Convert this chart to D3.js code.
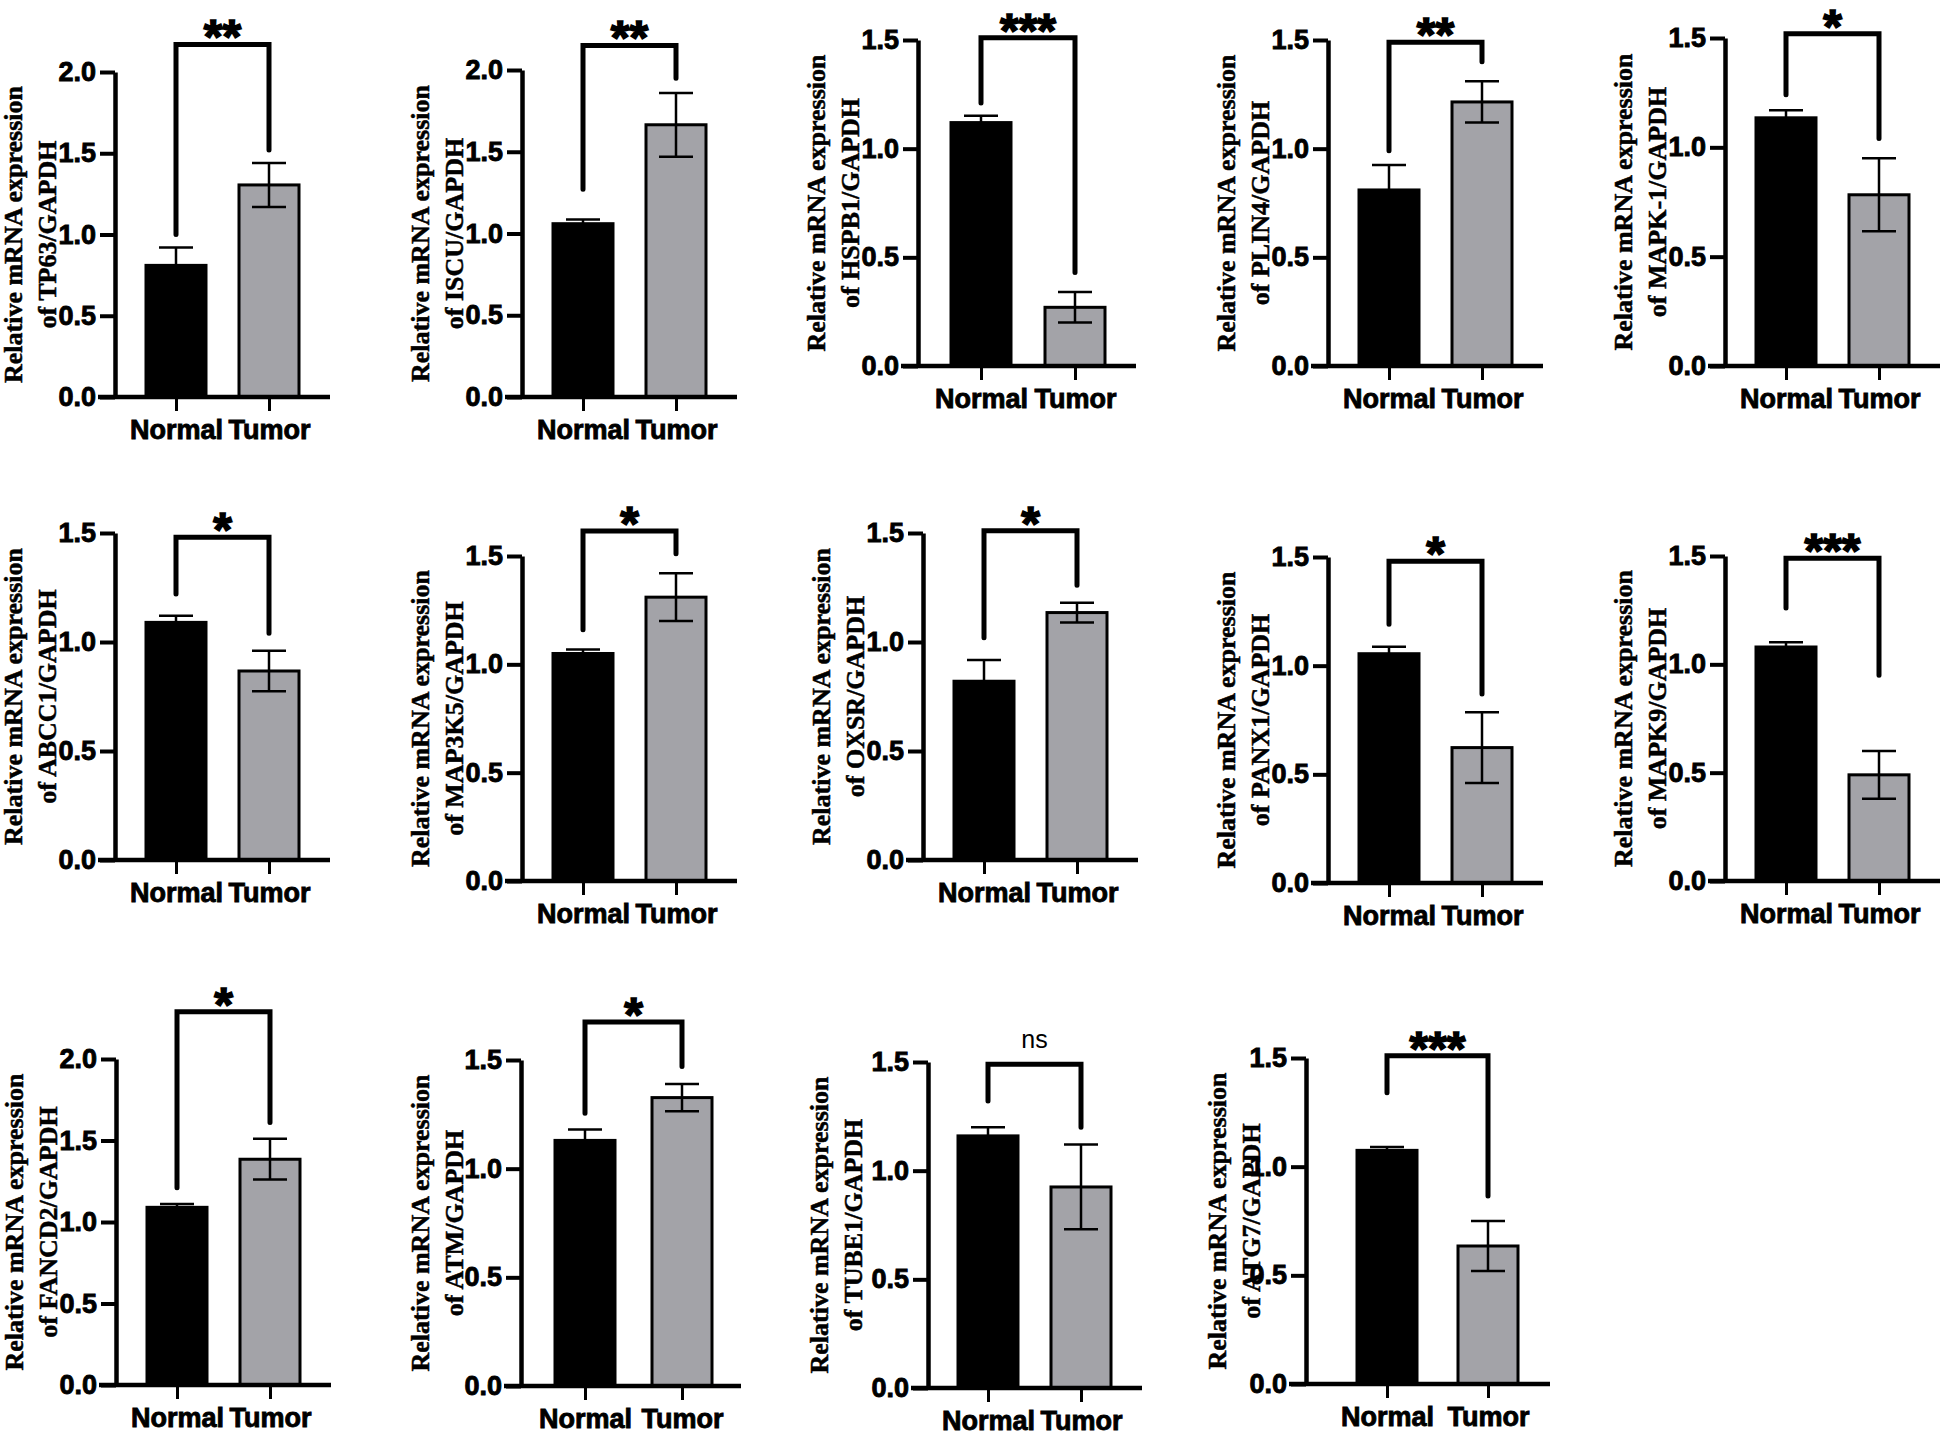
<html>
<head>
    <meta charset="UTF-8" />
    <title>Relative mRNA expression panels</title>
    <script src="https://d3js.org/d3.v7.min.js"></script>
    <style>
        body { margin: 0; background: white; }
    </style>
</head>
<body>
    <svg id="canva" width="1944" height="1437"></svg>
    <script>
        // data
        const genes = ["TP63", "ISCU", "HSPB1", "PLIN4", "MAPK-1",
                       "ABCC1", "MAP3K5", "OXSR", "PANX1", "MAPK9",
                       "FANCD2", "ATM", "TUBE1", "ATG7"];
        const groups = ["Normal", "Tumor"];
        const normalMean = [0.81, 1.06, 1.12, 0.81, 1.135, 1.09, 1.05, 0.82, 1.055, 1.08, 1.09, 1.13, 1.16, 1.075];
        const normalSem  = [0.11, 0.026, 0.032, 0.115, 0.035, 0.03, 0.018, 0.097, 0.032, 0.022, 0.02, 0.05, 0.04, 0.015];
        const tumorMean  = [1.305, 1.665, 0.27, 1.215, 0.783, 0.867, 1.31, 1.135, 0.623, 0.49, 1.385, 1.327, 0.925, 0.635];
        const tumorSem   = [0.135, 0.195, 0.07, 0.095, 0.167, 0.093, 0.11, 0.045, 0.163, 0.11, 0.125, 0.063, 0.195, 0.115];
        const significance = ["**", "**", "***", "**", "*", "*", "*", "*", "*", "***", "*", "*", "ns", "***"];
        const yMax = [2, 2, 1.5, 1.5, 1.5, 1.5, 1.5, 1.5, 1.5, 1.5, 2, 1.5, 1.5, 1.5];
        // comparison bracket: top, end of left leg, end of right leg (data units)
        const bracketTop   = [2.17, 2.15, 1.51, 1.49, 1.52, 1.48, 1.615, 1.51, 1.48, 1.49, 2.29, 1.675, 1.49, 1.51];
        const bracketLeft  = [1.0, 1.27, 1.21, 0.99, 1.24, 1.22, 1.16, 1.02, 1.19, 1.26, 1.21, 1.255, 1.32, 1.34];
        const bracketRight = [1.52, 1.95, 0.43, 1.40, 1.04, 1.04, 1.51, 1.26, 0.87, 0.95, 1.61, 1.47, 1.20, 0.865];

        // panel placement (pixels)
        const axisX = [115, 522, 918, 1328, 1725, 115, 522, 923, 1328, 1725, 116, 521, 928, 1306];
        const zeroY = [397, 397, 366, 366, 366, 860, 881, 860, 883, 881, 1385, 1386, 1388, 1384];
        const topY  = [72, 70, 40, 40, 38, 533, 556, 533, 557, 556, 1059, 1060, 1062, 1058];
        const normalOff = [61, 61, 63, 61, 61, 61, 61, 61, 61, 61, 61, 64, 60, 81];
        const tumorOff  = [154, 154, 157, 154, 154, 154, 154, 154, 154, 154, 154, 161, 153, 182];
        const xEnd      = [215, 215, 218, 215, 215, 215, 215, 215, 215, 215, 215, 220, 214, 244];
        const labelGap  = [93, 93, 93, 93, 93, 93, 93, 93, 93, 93, 93, 92, 100, 80];

        const sans = "'Liberation Sans', Arial, sans-serif";
        const serif = "'Liberation Serif', 'Times New Roman', serif";
        const grey = "#a3a3a8";

        let canva = d3.select("svg#canva");
        canva.append("rect").attr("width", 1944).attr("height", 1437).attr("fill", "white");

        genes.forEach((gene, i) => {
            const ax = axisX[i];
            const y = d3.scaleLinear().domain([0, yMax[i]]).range([zeroY[i], topY[i]]);
            const x = d3.scalePoint().domain(groups).range([ax + normalOff[i], ax + tumorOff[i]]);
            let panel = canva.append("g").attr("class", "panel");

            // bars
            const means = [normalMean[i], tumorMean[i]];
            const sems = [normalSem[i], tumorSem[i]];
            groups.forEach((grp, j) => {
                panel.append("rect")
                    .attr("x", x(grp) - 30)
                    .attr("y", y(means[j]))
                    .attr("width", 60)
                    .attr("height", y(0) - y(means[j]))
                    .attr("fill", j == 0 ? "black" : grey)
                    .attr("stroke", "black")
                    .attr("stroke-width", 3);
            });

            // error bars
            groups.forEach((grp, j) => {
                const lo = y(means[j] - sems[j]);
                const hi = y(means[j] + sems[j]);
                panel.append("line")
                    .attr("x1", x(grp)).attr("x2", x(grp))
                    .attr("y1", lo).attr("y2", hi)
                    .attr("stroke", "black").attr("stroke-width", 2.5);
                [lo, hi].forEach((yy) => {
                    panel.append("line")
                        .attr("x1", x(grp) - 17).attr("x2", x(grp) + 17)
                        .attr("y1", yy).attr("y2", yy)
                        .attr("stroke", "black").attr("stroke-width", 2.5);
                });
            });

            // y axis
            let yAxis = panel.append("g")
                .attr("transform", `translate(${ax},0)`)
                .call(d3.axisLeft(y)
                    .tickValues(d3.range(0, yMax[i] + 0.01, 0.5))
                    .tickFormat(d3.format(".1f"))
                    .tickSize(15).tickSizeOuter(0).tickPadding(4));
            yAxis.select(".domain").attr("stroke-width", 4.5);
            yAxis.selectAll(".tick line").attr("stroke-width", 4);
            yAxis.selectAll(".tick text")
                .attr("font-family", sans).attr("font-weight", "bold")
                .attr("font-size", "27px").attr("fill", "black")
                .attr("stroke", "black").attr("stroke-width", 0.9);

            // x axis
            let xAxis = panel.append("g")
                .attr("transform", `translate(0,${zeroY[i]})`)
                .call(d3.axisBottom(x).tickSize(14).tickSizeOuter(0).tickPadding(9));
            xAxis.select(".domain").remove();
            xAxis.append("line")
                .attr("x1", ax - 17).attr("x2", ax + xEnd[i])
                .attr("y1", 0).attr("y2", 0)
                .attr("stroke", "black").attr("stroke-width", 4.5);
            xAxis.selectAll(".tick line").attr("stroke-width", 3);
            xAxis.selectAll(".tick text")
                .attr("font-family", sans).attr("font-weight", "bold")
                .attr("font-size", "27px").attr("fill", "black")
                .attr("stroke", "black").attr("stroke-width", 0.9);

            // significance bracket
            const xl = x("Normal"), xr = x("Tumor");
            panel.append("path")
                .attr("d", `M${xl},${y(bracketLeft[i])}V${y(bracketTop[i])}H${xr}V${y(bracketRight[i])}`)
                .attr("fill", "none")
                .attr("stroke", "black")
                .attr("stroke-width", 5)
                .attr("stroke-linecap", "round")
                .attr("stroke-linejoin", "miter");

            const isNs = significance[i] == "ns";
            panel.append("text")
                .attr("x", (xl + xr) / 2)
                .attr("y", isNs ? y(bracketTop[i]) - 16 : y(bracketTop[i]) + 9)
                .attr("text-anchor", "middle")
                .attr("font-family", sans)
                .attr("font-weight", isNs ? "normal" : "bold")
                .attr("font-size", isNs ? "25px" : "48px")
                .attr("stroke", isNs ? "none" : "black")
                .attr("stroke-width", 1.6)
                .text(significance[i]);

            // y label, two lines
            let label = panel.append("text")
                .attr("transform", `translate(${ax - labelGap[i]},${(zeroY[i] + topY[i]) / 2}) rotate(-90)`)
                .attr("text-anchor", "middle")
                .attr("font-family", serif)
                .attr("font-weight", "bold")
                .attr("font-size", "26px")
                .attr("stroke", "black")
                .attr("stroke-width", 0.5);
            label.append("tspan").attr("x", 0).attr("y", 0).text("Relative mRNA expression");
            label.append("tspan").attr("x", 0).attr("y", 34).text(`of ${gene}/GAPDH`);
        });
    </script>
</body>
</html>
